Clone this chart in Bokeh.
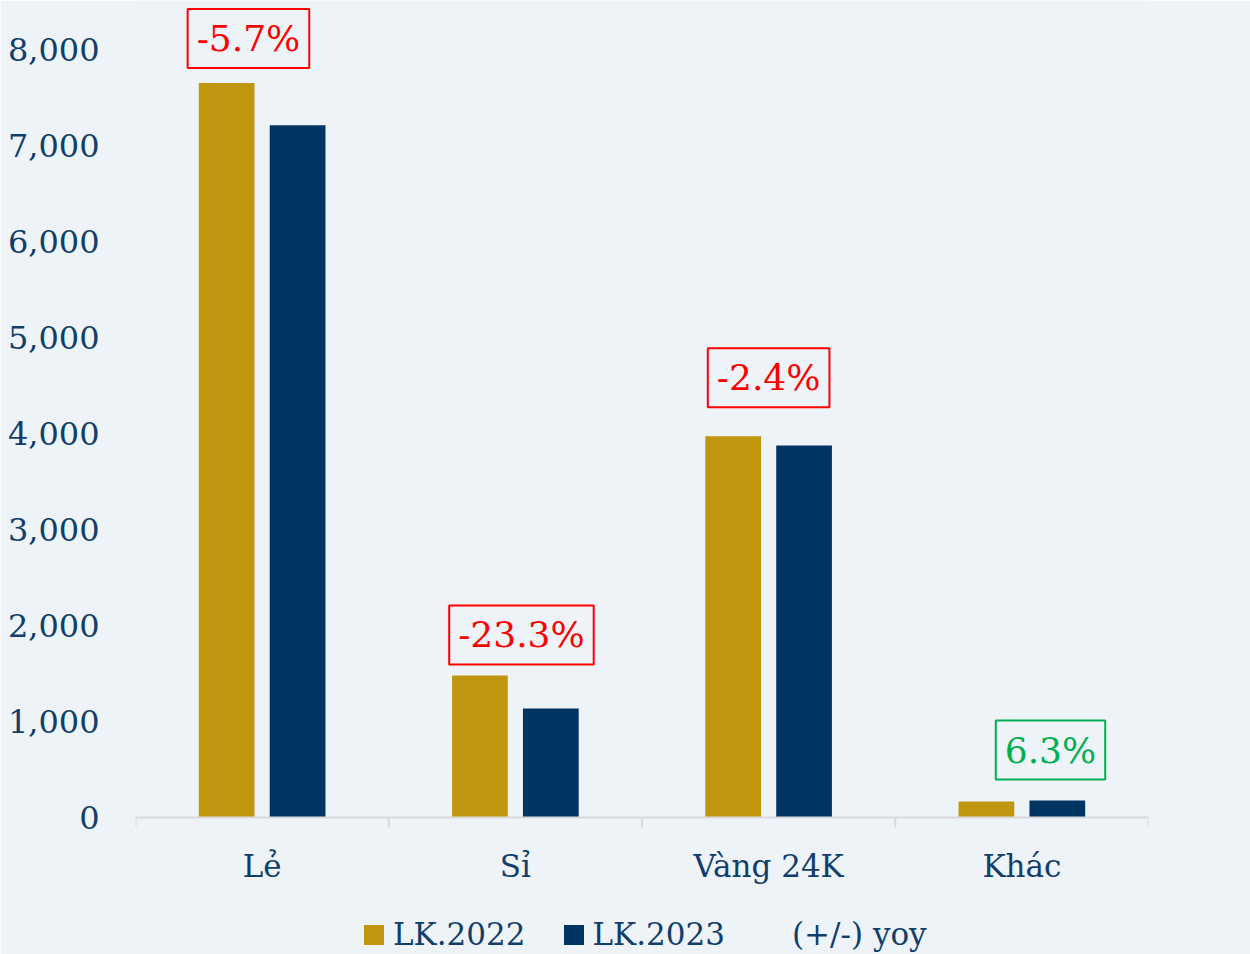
import math
from bokeh.plotting import figure
from bokeh.models import (Range1d, FixedTicker, Label, Legend, LegendItem,
                          ColumnDataSource, NumeralTickFormatter, Span)
from bokeh.core.properties import value
from bokeh.transform import dodge
from bokeh.embed import file_html
from bokeh.resources import INLINE

# ---------------- data ----------------
categories = ["Lẻ", "Sỉ", "Vàng 24K", "Khác"]
lk2022 = [7650, 1480, 3970, 167]
lk2023 = [7210, 1135, 3875, 177]
yoy = [-5.7, -23.3, -2.4, 6.3]
series_names = ["LK.2022", "LK.2023", "(+/-) yoy"]
y_ticks = [0, 1000, 2000, 3000, 4000, 5000, 6000, 7000, 8000]
pct_ticks = [5, 0, -5, -10, -15, -20, -25]

# ---------------- layout / style ----------------
FONT = "DejaVu Serif"
NAVY_TEXT = "#123E6B"
GOLD = "#C0960F"
NAVY = "#003463"
BG = "#EEF3F8"
AXIS_GRAY = "#D9D9D9"
Y_START, Y_END = -1427, 8510          # frame spans the whole height
PCT_PER_UNIT = 35 / 8000               # secondary scale: -25% at 0, +10% at 8000
PCT_AT_ZERO = -25
label_dx = [-0.054, 0.024, 0.0, 0.113]
label_gap = [15, 11, 29, 21]

xc = [i + 0.5 for i in range(len(categories))]
bounds = list(range(len(categories) + 1))
src = ColumnDataSource(dict(x=xc, v22=lk2022, v23=lk2023, yoy=yoy, cat=categories))

p = figure(width=1250, height=954, x_range=Range1d(0, len(categories)),
           y_range=Range1d(Y_START, Y_END), output_backend="svg",
           toolbar_location=None, min_border_left=135, min_border_right=102,
           min_border_top=0, min_border_bottom=0)
p.extra_y_ranges = {"pct": Range1d(PCT_AT_ZERO + Y_START * PCT_PER_UNIT,
                                   PCT_AT_ZERO + Y_END * PCT_PER_UNIT)}
p.background_fill_color = BG
p.border_fill_color = BG
p.outline_line_color = None
p.grid.visible = False
p.xaxis.visible = False

# bars
r1 = p.vbar(x=dodge("x", -0.14, range=p.x_range), top="v22", width=0.22,
            source=src, fill_color=GOLD, line_color=None)
r2 = p.vbar(x=dodge("x", 0.14, range=p.x_range), top="v23", width=0.22,
            source=src, fill_color=NAVY, line_color=None)
r3 = p.scatter(x="x", y="yoy", y_range_name="pct", source=src, size=8,
               fill_alpha=0, line_alpha=0)

# category axis: baseline, boundary ticks, labels
p.add_layout(Span(location=0, dimension="width", line_color=AXIS_GRAY, line_width=2))
p.ray(x=bounds, y=[0] * len(bounds), length=10, length_units="screen",
      angle=-math.pi / 2, line_color=AXIS_GRAY, line_width=2)
p.text(x="x", y=0, text="cat", source=src, y_offset=48, text_align="center",
       text_baseline="middle", text_font=value(FONT), text_font_size="31px",
       text_color=NAVY_TEXT)

# y axis
ya = p.yaxis[0]
ya.ticker = FixedTicker(ticks=y_ticks)
ya.formatter = NumeralTickFormatter(format="0,0")
ya.axis_line_color = None
ya.major_tick_line_color = None
ya.minor_tick_line_color = None
ya.major_label_standoff = 30
ya.major_label_text_font = FONT
ya.major_label_text_font_size = "32px"
ya.major_label_text_color = NAVY_TEXT

# secondary (percent) axis labels, white as in the reference
for t in pct_ticks:
    p.add_layout(Label(x=1045, x_units="screen", y=t, y_range_name="pct",
                       text=f"{t:.1f}%", text_color="white", text_font=FONT,
                       text_font_size="19px", text_align="left",
                       text_baseline="middle"))

# yoy boxed labels
for i, v in enumerate(yoy):
    col = "#00B050" if v >= 0 else "#FF0000"
    p.add_layout(Label(x=xc[i] + label_dx[i], y=max(lk2022[i], lk2023[i]),
                       y_offset=label_gap[i], text=f"{v:.1f}%", text_color=col,
                       text_font=FONT, text_font_size="36px", text_align="center",
                       text_baseline="bottom", border_line_color=col,
                       border_line_width=2, background_fill_color="white",
                       background_fill_alpha=0.0, padding=9))

legend = Legend(items=[LegendItem(label=series_names[0], renderers=[r1]),
                       LegendItem(label=series_names[1], renderers=[r2]),
                       LegendItem(label=series_names[2], renderers=[r3])],
                orientation="horizontal", location=(226, 2),
                label_text_font=FONT, label_text_font_size="31px",
                label_text_color=NAVY_TEXT, glyph_width=25, glyph_height=25,
                label_standoff=7, spacing=35, background_fill_alpha=0,
                border_line_color=None, padding=0, margin=0)
p.add_layout(legend, "center")

open("out.html", "w").write(file_html(p, INLINE))
